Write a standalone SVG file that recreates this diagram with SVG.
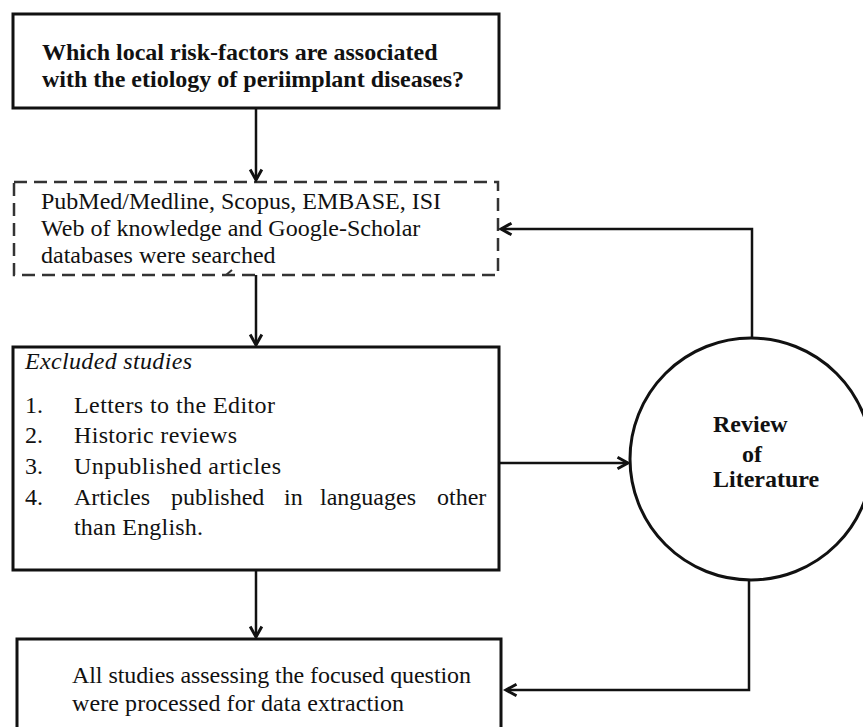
<svg xmlns="http://www.w3.org/2000/svg" width="863" height="727" viewBox="0 0 863 727">
<style>
.box{fill:#fff;stroke:#111;stroke-width:3}
.dash{fill:#fff;stroke:#333;stroke-width:2.5;stroke-dasharray:13 7}
.t{font-family:"Liberation Serif","Times New Roman",serif;font-size:24px;fill:#111}
.b{font-weight:bold}
.i{font-style:italic}
.c{fill:none;stroke:#111;stroke-width:2.5}
</style>
<defs>
<marker id="ah" markerUnits="userSpaceOnUse" markerWidth="14" markerHeight="14" viewBox="0 0 12 12" refX="10" refY="6" orient="auto" overflow="visible">
<path d="M1,1 L10,6 L1,11" fill="none" stroke="#111" stroke-width="2.5"/>
</marker>
</defs>
<rect width="863" height="727" fill="#fff"/>
<g id="question">
<rect class="box" x="13" y="14" width="486" height="94"/>
<text class="t b" x="42" y="60">Which local risk-factors are associated</text>
<text class="t b" x="42" y="87">with the etiology of periimplant diseases?</text>
</g>
<g id="search">
<rect class="dash" x="14" y="182" width="484" height="93"/>
<path d="M226,275 L232,270" fill="none" stroke="#333" stroke-width="2"/>
<text class="t" x="41" y="209">PubMed/Medline, Scopus, EMBASE, ISI</text>
<text class="t" x="41" y="236">Web of knowledge and Google-Scholar</text>
<text class="t" x="41" y="263">databases were searched</text>
</g>
<g id="excluded">
<rect class="box" x="13" y="347" width="486" height="223"/>
<text class="t i" x="25" y="369" textLength="167">Excluded studies</text>
<text class="t" x="25" y="413">1.</text>
<text class="t" x="74" y="413" textLength="201">Letters to the Editor</text>
<text class="t" x="25" y="443">2.</text>
<text class="t" x="74" y="443" textLength="163">Historic reviews</text>
<text class="t" x="25" y="474">3.</text>
<text class="t" x="74" y="474" textLength="207">Unpublished articles</text>
<text class="t" x="25" y="505">4.</text>
<text class="t" y="505"><tspan x="74">Articles</tspan><tspan x="171">published</tspan><tspan x="284">in</tspan><tspan x="320">languages</tspan><tspan x="437">other</tspan></text>
<text class="t" x="74" y="535" textLength="129">than English.</text>
</g>
<g id="review">
<circle cx="751" cy="459" r="121" fill="#fff" stroke="#111" stroke-width="3"/>
<text class="t b" x="713" y="432">Review</text>
<text class="t b" x="742" y="462">of</text>
<text class="t b" x="713" y="487">Literature</text>
</g>
<g id="extraction">
<rect class="box" x="17" y="639" width="484" height="100"/>
<text class="t" x="72" y="683" textLength="399">All studies assessing the focused question</text>
<text class="t" x="72" y="711" textLength="332">were processed for data extraction</text>
</g>
<g id="connectors">
<path class="c" d="M256,108 V180" marker-end="url(#ah)"/>
<path class="c" d="M256,275 V345" marker-end="url(#ah)"/>
<path class="c" d="M256,570 V637" marker-end="url(#ah)"/>
<path class="c" d="M499,463 H628" marker-end="url(#ah)"/>
<path class="c" d="M752,338 V229 H501" marker-end="url(#ah)"/>
<path class="c" d="M749,580 V690 H506" marker-end="url(#ah)"/>
</g>
</svg>
